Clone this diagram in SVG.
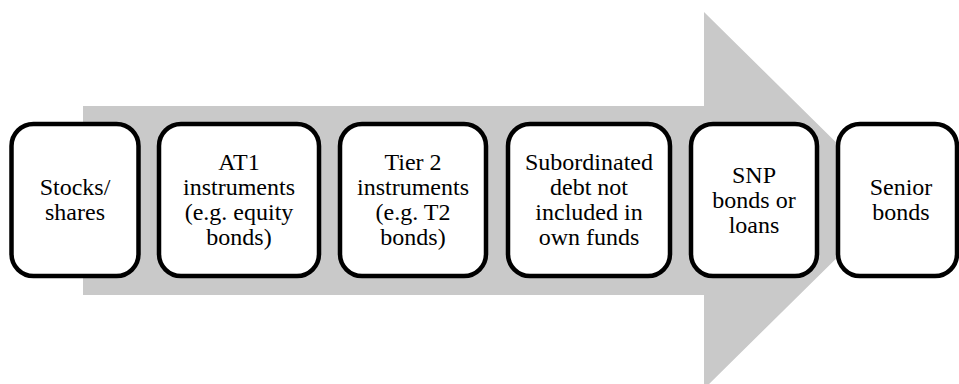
<svg xmlns="http://www.w3.org/2000/svg" width="959" height="384" viewBox="0 0 959 384">
<style>
.box{fill:#ffffff;stroke:#000000;stroke-width:4.5}
text{font-family:'Liberation Serif','DejaVu Serif',serif;font-size:24px;fill:#000000;text-anchor:middle}
</style>
<rect width="959" height="384" fill="#ffffff"/>
<g id="arrow">
<polygon points="83,106 704,106 704,12 895,200.5 704,389 704,295 83,295" fill="#c9c9c9"/>
</g>
<g id="connectors"></g>
<g id="n1"><rect class="box" x="11.5" y="124" width="127" height="152" rx="22"/>
<text x="75" y="195">Stocks/</text><text x="75" y="220">shares</text></g>
<g id="n2"><rect class="box" x="159" y="124" width="160" height="152" rx="22"/>
<text x="239" y="170">AT1</text><text x="239" y="195">instruments</text><text x="239" y="220">(e.g. equity</text><text x="239" y="245">bonds)</text></g>
<g id="n3"><rect class="box" x="340" y="124" width="146" height="152" rx="22"/>
<text x="413" y="170">Tier 2</text><text x="413" y="195">instruments</text><text x="413" y="220">(e.g. T2</text><text x="413" y="245">bonds)</text></g>
<g id="n4"><rect class="box" x="508" y="124" width="162" height="152" rx="22"/>
<text x="589" y="170">Subordinated</text><text x="589" y="195">debt not</text><text x="589" y="220">included in</text><text x="589" y="245">own funds</text></g>
<g id="n5"><rect class="box" x="691" y="124" width="126" height="152" rx="22"/>
<text x="754" y="183">SNP</text><text x="754" y="208">bonds or</text><text x="754" y="233">loans</text></g>
<g id="n6"><rect class="box" x="838" y="124" width="119" height="152" rx="22"/>
<text x="901" y="195">Senior</text><text x="901" y="220">bonds</text></g>
</svg>
